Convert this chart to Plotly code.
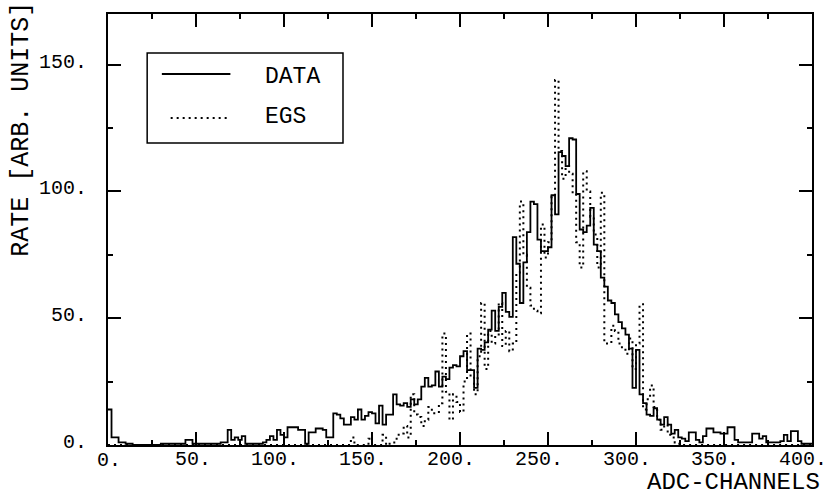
import plotly.graph_objects as go

# ---------------- data ----------------
bin_width = 2
channel_edges = list(range(0, 400, bin_width))  # left edges of the 2-channel bins

data_counts = [
    14, 3, 3, 1, 1, 0.5, 0.5, 0, 0, 0,
    0, 0, 0, 0, 0, 0.5, 0.5, 0.5, 0.5, 0.5,
    0.5, 0.5, 2, 2, 0.5, 0.5, 0.5, 0.5, 0.5, 0.5,
    0.5, 0.5, 1, 1, 6, 2, 3, 2, 3.5, 0.5,
    0.5, 0.5, 0.5, 0.5, 1, 2, 3.5, 2, 6, 4,
    3, 7, 7, 7, 6, 6, 0.5, 5, 5, 6.5,
    6.5, 6, 3, 3, 12.5, 12, 10.5, 8, 8, 11,
    10, 14, 10, 11.5, 13, 12.5, 8.5, 15.5, 8, 12,
    12, 20, 16, 15.5, 16.5, 15, 18, 16, 18, 23,
    26.5, 23, 23.5, 29, 23, 27, 26, 30.5, 31.5, 31,
    35, 37, 29.5, 29.5, 22.5, 38, 37.5, 40.5, 45.5, 53,
    45, 54.5, 60, 52.5, 50.5, 82, 71.5, 56, 72, 84,
    96, 95, 81, 76.5, 76.5, 78, 98.5, 91, 115.5, 114,
    110, 121, 120.5, 99, 85, 84, 86.5, 93.5, 79, 76.5,
    66, 62.5, 57, 56, 51.5, 48.5, 46, 43.5, 38, 22.5,
    37.5, 20, 16.5, 12, 11.5, 14.5, 10, 8, 11, 8,
    4.5, 6, 3, 2.5, 1.5, 5, 5, 2, 1, 3.5,
    6.5, 6.5, 5, 5, 4.5, 4.5, 7, 7, 2, 1,
    1, 1, 1, 4.5, 4.5, 2.5, 3.5, 1, 1, 1,
    1, 1.5, 4, 1.5, 5.5, 5.5, 1.5, 0.5, 0.5, 0.5,
]

egs_counts = [
    0, 0, 0, 0, 0, 0, 0, 0, 0, 0,
    0, 0, 0, 0, 0, 0, 0, 0, 0, 0,
    0, 0, 0, 0, 0, 0, 0, 0, 0, 0,
    0, 0, 0, 0, 0, 0, 0, 0, 0, 0,
    0, 0, 0, 0, 0, 0, 0, 0, 0, 0,
    0, 0, 0, 0, 0, 0, 0, 0, 0, 0,
    0, 0, 0, 0, 0, 0, 0, 0, 0, 3,
    0, 0, 0, 0, 2.5, 0, 0, 0, 4, 0,
    1, 1, 4, 4.5, 7.5, 3, 20, 12, 11, 7.5,
    10, 15, 12.5, 12.5, 16.5, 44, 21, 10, 20, 17,
    13, 25, 44, 27, 20, 35, 56, 30, 45, 40,
    43, 56, 39, 45, 37, 40, 68, 96, 75, 62,
    55, 53, 52, 87, 74, 80, 98, 144, 116, 105,
    110, 107, 99, 80, 70, 108, 100, 90, 83, 70,
    99.5, 40, 40, 47, 45, 40, 38, 36, 42, 30,
    40, 55.5, 14, 18, 23.5, 15, 10, 6, 8, 4,
    3, 1, 0.5, 0, 0, 0, 0, 0, 0, 0,
    0, 0, 0, 0, 0, 0, 0, 0, 0, 0,
    0, 0, 0, 0, 0, 0, 0, 0, 0, 0,
    0, 0, 0, 0, 0, 0, 0, 0, 0, 0,
]

x_tick_values = [0, 50, 100, 150, 200, 250, 300, 350, 400]
x_tick_labels = ["0.", "50.", "100.", "150.", "200.", "250.", "300.", "350.", "400."]
y_tick_values = [0, 50, 100, 150]
y_tick_labels = ["0.", "50.", "100.", "150."]
series_names = ["DATA", "EGS"]
x_title = "ADC-CHANNELS"
y_title = "RATE [ARB. UNITS]"

# ---------------- figure ----------------
W, H = 837, 497
ML, MR, MT, MB = 108, 10, 14, 52
FONT = "Liberation Mono, Courier New, monospace"
TICK_SIZE = 20
CHAR_W = int(round(0.6 * TICK_SIZE))  # monospace advance width
X_LABEL_STANDOFF = -6


def px_to_paper(px, py):
    return (px - ML) / (W - ML - MR), 1 - (py - MT) / (H - MT - MB)


def pad_label(lbl):
    # left-pad to 4 characters so that the digits end at the tick
    return "\u00a0" * (4 - len(lbl)) + lbl


x_end = channel_edges[-1] + bin_width

fig = go.Figure()
fig.add_trace(go.Scatter(
    x=channel_edges + [x_end], y=data_counts + [data_counts[-1]],
    mode="lines", line=dict(shape="hv", color="black", width=1.8),
    name=series_names[0], showlegend=False, hoverinfo="skip"))
fig.add_trace(go.Scatter(
    x=channel_edges + [x_end], y=egs_counts + [egs_counts[-1]],
    mode="lines", line=dict(shape="hv", color="black", width=2, dash="2px,4px"),
    name=series_names[1], showlegend=False, hoverinfo="skip"))
# invisible helper so the overlay axis (carrying the "0." label) is drawn
fig.add_trace(go.Scatter(
    x=[channel_edges[0]], y=[data_counts[0]], xaxis="x2", mode="markers",
    marker=dict(opacity=0), showlegend=False, hoverinfo="skip"))

axis_common = dict(
    showline=True, linecolor="black", linewidth=2, mirror="ticks",
    ticks="inside", ticklen=13, tickwidth=1.5, tickcolor="black",
    showgrid=False, zeroline=False,
    tickfont=dict(family=FONT, size=TICK_SIZE, color="black"),
    ticklabeloverflow="allow",
)
main_x_text = [pad_label(t) if len(t) > 2 else "" for t in x_tick_labels]
fig.update_xaxes(
    range=[0, 400], tickvals=x_tick_values, ticktext=main_x_text,
    minor=dict(dtick=25, tick0=0, ticks="inside", ticklen=5, tickwidth=1.5,
               tickcolor="black", showgrid=False),
    ticklabelstandoff=X_LABEL_STANDOFF, ticklabelshift=-CHAR_W + 3,
    **axis_common)
fig.update_yaxes(
    range=[0, 170], tickvals=y_tick_values, ticktext=y_tick_labels,
    minor=dict(dtick=25, tick0=0, ticks="inside", ticklen=5, tickwidth=1.5,
               tickcolor="black", showgrid=False),
    ticklabelstandoff=15, ticklabelshift=-4,
    **axis_common)

# overlay x axis carrying only the short "0." label (digits end at the tick)
short_vals = [v for v, t in zip(x_tick_values, x_tick_labels) if len(t) == 2]
short_text = [t for t in x_tick_labels if len(t) == 2]
fig.update_layout(xaxis2=dict(
    overlaying="x", anchor="y", side="bottom", range=[0, 400],
    tickvals=short_vals, ticktext=short_text, ticks="", showline=False,
    showgrid=False, zeroline=False, ticklabeloverflow="allow",
    tickfont=dict(family=FONT, size=TICK_SIZE, color="black"),
    ticklabelstandoff=X_LABEL_STANDOFF + 6, ticklabelshift=1,
))

# legend box drawn as layout shapes + text
bx0, by0 = px_to_paper(148, 53)
bx1, by1 = px_to_paper(348, 143)
shapes = [dict(type="rect", xref="paper", yref="paper", x0=bx0, y0=by0, x1=bx1, y1=by1,
               line=dict(color="black", width=1.5), fillcolor="white")]
lx0, ly0 = px_to_paper(163, 74)
lx1, _ = px_to_paper(233, 74)
shapes.append(dict(type="line", xref="paper", yref="paper", x0=lx0, y0=ly0, x1=lx1, y1=ly0,
                   line=dict(color="black", width=1.8)))
dx0, dy0 = px_to_paper(172, 118)
dx1, _ = px_to_paper(230, 118)
shapes.append(dict(type="line", xref="paper", yref="paper", x0=dx0, y0=dy0, x1=dx1, y1=dy0,
                   line=dict(color="black", width=2, dash="2px,4px")))

annotations = []
tx, ty = px_to_paper(266, 77)
annotations.append(dict(xref="paper", yref="paper", x=tx, y=ty, text=series_names[0],
                        showarrow=False, xanchor="left", yanchor="middle",
                        font=dict(family=FONT, size=23, color="black")))
tx, ty = px_to_paper(266, 117)
annotations.append(dict(xref="paper", yref="paper", x=tx, y=ty, text=series_names[1],
                        showarrow=False, xanchor="left", yanchor="middle",
                        font=dict(family=FONT, size=23, color="black")))
# axis titles
tx, ty = px_to_paper(828, 482)
annotations.append(dict(xref="paper", yref="paper", x=tx, y=ty, text=x_title,
                        showarrow=False, xanchor="right", yanchor="middle", xshift=9,
                        font=dict(family=FONT, size=24, color="black")))
tx, ty = px_to_paper(19, 129)
annotations.append(dict(xref="paper", yref="paper", x=tx, y=ty, text=y_title,
                        showarrow=False, textangle=-90, xanchor="center", yanchor="middle",
                        font=dict(family=FONT, size=25, color="black")))

fig.update_layout(
    width=W, height=H,
    margin=dict(l=ML, r=MR, t=MT, b=MB, pad=0),
    paper_bgcolor="white", plot_bgcolor="white",
    showlegend=False, shapes=shapes, annotations=annotations,
)

fig.write_html("out.html")
